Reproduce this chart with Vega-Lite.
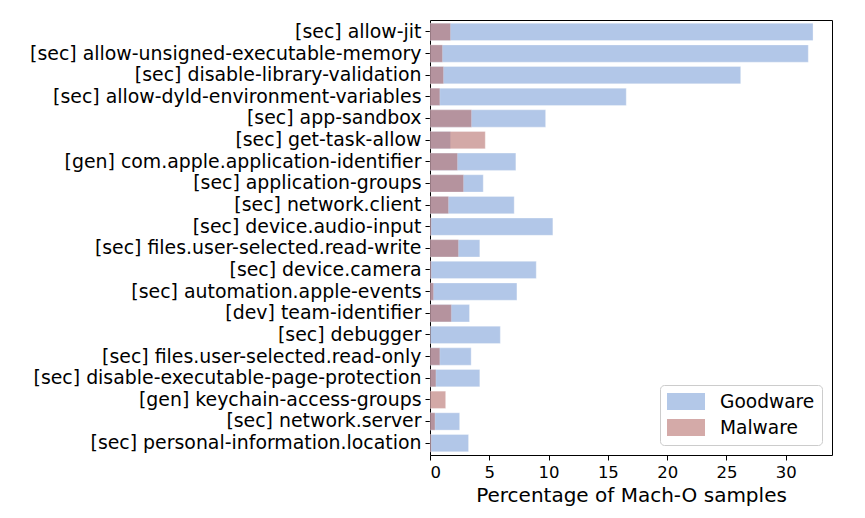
{
  "$schema": "https://vega.github.io/schema/vega-lite/v6.json",
  "width": 402,
  "height": 435,
  "autosize": "none",
  "padding": {"left": 430, "top": 20, "right": 33, "bottom": 63},
  "background": "white",
  "config": {
    "font": "DejaVu Sans",
    "view": {"stroke": "black", "strokeWidth": 1}
  },
  "data": {
    "values": [
      {"feature": "[sec] allow-jit", "type": "Goodware", "pct": 32.3},
      {"feature": "[sec] allow-unsigned-executable-memory", "type": "Goodware", "pct": 31.9},
      {"feature": "[sec] disable-library-validation", "type": "Goodware", "pct": 26.2},
      {"feature": "[sec] allow-dyld-environment-variables", "type": "Goodware", "pct": 16.55},
      {"feature": "[sec] app-sandbox", "type": "Goodware", "pct": 9.75},
      {"feature": "[sec] get-task-allow", "type": "Goodware", "pct": 1.73},
      {"feature": "[gen] com.apple.application-identifier", "type": "Goodware", "pct": 7.24},
      {"feature": "[sec] application-groups", "type": "Goodware", "pct": 4.49},
      {"feature": "[sec] network.client", "type": "Goodware", "pct": 7.1},
      {"feature": "[sec] device.audio-input", "type": "Goodware", "pct": 10.36},
      {"feature": "[sec] files.user-selected.read-write", "type": "Goodware", "pct": 4.2},
      {"feature": "[sec] device.camera", "type": "Goodware", "pct": 8.96},
      {"feature": "[sec] automation.apple-events", "type": "Goodware", "pct": 7.33},
      {"feature": "[dev] team-identifier", "type": "Goodware", "pct": 3.33},
      {"feature": "[sec] debugger", "type": "Goodware", "pct": 5.93},
      {"feature": "[sec] files.user-selected.read-only", "type": "Goodware", "pct": 3.47},
      {"feature": "[sec] disable-executable-page-protection", "type": "Goodware", "pct": 4.2},
      {"feature": "[gen] keychain-access-groups", "type": "Goodware", "pct": 0.05},
      {"feature": "[sec] network.server", "type": "Goodware", "pct": 2.5},
      {"feature": "[sec] personal-information.location", "type": "Goodware", "pct": 3.25},
      {"feature": "[sec] allow-jit", "type": "Malware", "pct": 1.73},
      {"feature": "[sec] allow-unsigned-executable-memory", "type": "Malware", "pct": 1.05},
      {"feature": "[sec] disable-library-validation", "type": "Malware", "pct": 1.14},
      {"feature": "[sec] allow-dyld-environment-variables", "type": "Malware", "pct": 0.83},
      {"feature": "[sec] app-sandbox", "type": "Malware", "pct": 3.5},
      {"feature": "[sec] get-task-allow", "type": "Malware", "pct": 4.66},
      {"feature": "[gen] com.apple.application-identifier", "type": "Malware", "pct": 2.32},
      {"feature": "[sec] application-groups", "type": "Malware", "pct": 2.83},
      {"feature": "[sec] network.client", "type": "Malware", "pct": 1.56},
      {"feature": "[sec] device.audio-input", "type": "Malware", "pct": 0.1},
      {"feature": "[sec] files.user-selected.read-write", "type": "Malware", "pct": 2.4},
      {"feature": "[sec] device.camera", "type": "Malware", "pct": 0.1},
      {"feature": "[sec] automation.apple-events", "type": "Malware", "pct": 0.3},
      {"feature": "[dev] team-identifier", "type": "Malware", "pct": 1.8},
      {"feature": "[sec] debugger", "type": "Malware", "pct": 0.05},
      {"feature": "[sec] files.user-selected.read-only", "type": "Malware", "pct": 0.83},
      {"feature": "[sec] disable-executable-page-protection", "type": "Malware", "pct": 0.5},
      {"feature": "[gen] keychain-access-groups", "type": "Malware", "pct": 1.32},
      {"feature": "[sec] network.server", "type": "Malware", "pct": 0.42},
      {"feature": "[sec] personal-information.location", "type": "Malware", "pct": 0.1}
    ]
  },
  "mark": {"type": "bar", "opacity": 0.6, "stroke": "white", "strokeWidth": 0.6, "strokeOpacity": 0.5},
  "encoding": {
    "y": {
      "field": "feature",
      "type": "nominal",
      "sort": null,
      "title": null,
      "scale": {"paddingInner": 0.2, "paddingOuter": 0.15},
      "axis": {
        "labelFontSize": 18.9,
        "labelColor": "black",
        "labelLimit": 500,
        "labelPadding": 4,
        "tickColor": "black",
        "tickSize": 5,
        "tickWidth": 1,
        "domain": false,
        "grid": false
      }
    },
    "x": {
      "field": "pct",
      "type": "quantitative",
      "stack": null,
      "title": "Percentage of Mach-O samples",
      "scale": {"domain": [0, 33.9], "nice": false, "zero": true},
      "axis": {
        "values": [0, 5, 10, 15, 20, 25, 30],
        "labelFontSize": 16.5,
        "labelColor": "black",
        "labelPadding": 4,
        "tickColor": "black",
        "tickSize": 5,
        "tickWidth": 1,
        "domain": false,
        "grid": false,
        "titleFontSize": 20,
        "titleFontWeight": "normal",
        "titleColor": "black",
        "titlePadding": 5
      }
    },
    "color": {
      "field": "type",
      "type": "nominal",
      "title": null,
      "scale": {"domain": ["Goodware", "Malware"], "range": ["#80a3d9", "#b7716e"]},
      "legend": {
        "orient": "bottom-right",
        "offset": 10,
        "labelFontSize": 18.6,
        "labelColor": "black",
        "labelOffset": 34,
        "symbolType": "M-1,-0.9H3V0.9H-1Z",
        "symbolSize": 361,
        "symbolOpacity": 0.6,
        "symbolStrokeWidth": 0,
        "rowPadding": 6,
        "padding": 7,
        "strokeColor": "#cccccc",
        "fillColor": "white",
        "cornerRadius": 4
      }
    }
  }
}
